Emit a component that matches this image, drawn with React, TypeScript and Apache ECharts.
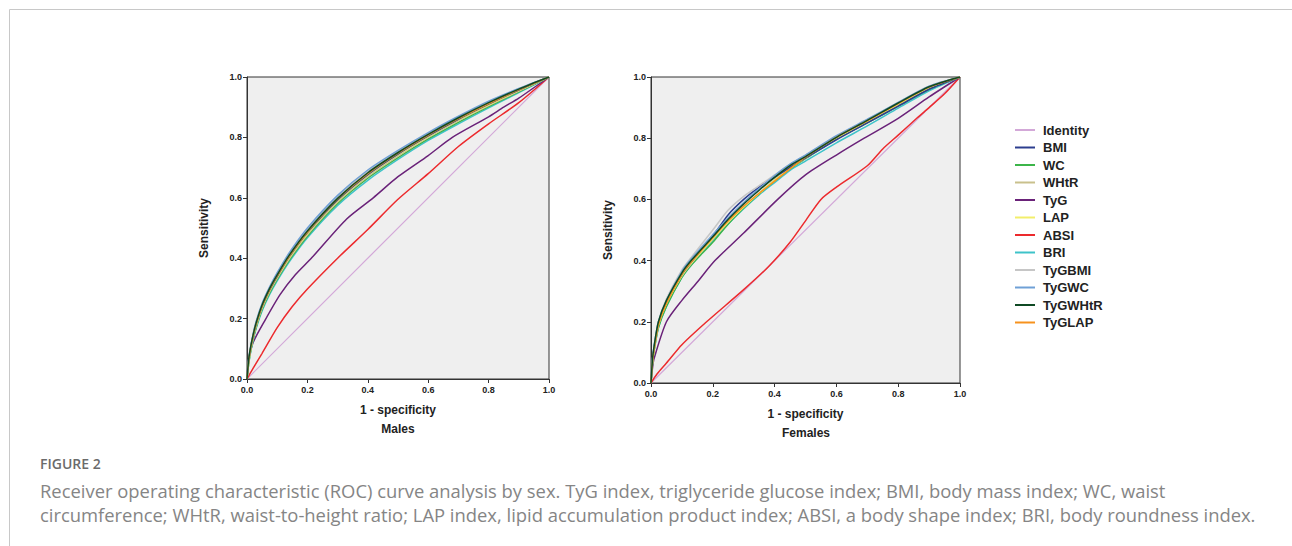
import React, { useEffect, useRef } from "react";
import * as echarts from "echarts";

// ---------- Data ----------
const LEGEND_ORDER = ["Identity", "BMI", "WC", "WHtR", "TyG", "LAP", "ABSI", "BRI", "TyGBMI", "TyGWC", "TyGWHtR", "TyGLAP"];
const COLORS: Record<string, string> = {
  Identity: "#d3a8d8",
  BMI: "#2c3e8f",
  WC: "#3cb54a",
  WHtR: "#c9c08c",
  TyG: "#6a2279",
  LAP: "#f2ee6b",
  ABSI: "#ec2a2d",
  BRI: "#3ec3c9",
  TyGBMI: "#c6c6c6",
  TyGWC: "#6fa0d6",
  TyGWHtR: "#0f4a24",
  TyGLAP: "#f6921e",
};
const DRAW_ORDER = ["Identity", "ABSI", "TyG", "BRI", "WC", "WHtR", "LAP", "BMI", "TyGBMI", "TyGWC", "TyGLAP", "TyGWHtR"];

const IDENTITY_X = [0, 1];
const IDENTITY_Y = [0, 1];

// Males
const M_GRID_X = [0, 0.005, 0.01, 0.02, 0.03, 0.05, 0.075, 0.1, 0.14, 0.2, 0.3, 0.4, 0.5, 0.6, 0.7, 0.8, 0.9, 1];
const M_TYGWHTR = [0, 0.06, 0.095, 0.145, 0.185, 0.245, 0.3, 0.345, 0.41, 0.49, 0.598, 0.683, 0.75, 0.81, 0.865, 0.915, 0.96, 1];
const M_TYGWC = [0, 0.06, 0.095, 0.148, 0.19, 0.25, 0.305, 0.352, 0.418, 0.5, 0.608, 0.692, 0.757, 0.816, 0.87, 0.92, 0.962, 1];
const M_TYGBMI = [0, 0.06, 0.095, 0.147, 0.188, 0.248, 0.303, 0.349, 0.415, 0.496, 0.604, 0.688, 0.753, 0.812, 0.867, 0.917, 0.961, 1];
const M_BMI = [0, 0.055, 0.09, 0.14, 0.18, 0.24, 0.295, 0.34, 0.405, 0.485, 0.593, 0.677, 0.745, 0.805, 0.86, 0.91, 0.957, 1];
const M_TYGLAP = [0, 0.055, 0.09, 0.142, 0.182, 0.242, 0.297, 0.342, 0.407, 0.487, 0.596, 0.68, 0.748, 0.808, 0.862, 0.912, 0.958, 1];
const M_LAP = [0, 0.05, 0.085, 0.137, 0.177, 0.237, 0.292, 0.337, 0.402, 0.482, 0.59, 0.675, 0.743, 0.803, 0.858, 0.908, 0.955, 1];
const M_WHTR = [0, 0.05, 0.085, 0.135, 0.175, 0.235, 0.29, 0.334, 0.398, 0.478, 0.586, 0.67, 0.738, 0.8, 0.855, 0.905, 0.953, 1];
const M_WC = [0, 0.045, 0.08, 0.13, 0.17, 0.23, 0.285, 0.33, 0.393, 0.473, 0.581, 0.665, 0.733, 0.795, 0.85, 0.902, 0.951, 1];
const M_BRI = [0, 0.045, 0.078, 0.127, 0.166, 0.225, 0.28, 0.325, 0.388, 0.468, 0.575, 0.658, 0.727, 0.79, 0.845, 0.898, 0.948, 1];
const M_TYG_X = [0, 0.005, 0.02, 0.06, 0.11, 0.16, 0.215, 0.33, 0.418, 0.5, 0.6, 0.68, 0.8, 0.85, 0.9, 1];
const M_TYG_Y = [0, 0.06, 0.12, 0.195, 0.28, 0.345, 0.402, 0.53, 0.6, 0.67, 0.74, 0.8, 0.868, 0.9, 0.93, 1];
const M_ABSI_X = [0, 0.02, 0.05, 0.1, 0.15, 0.2, 0.3, 0.4, 0.5, 0.6, 0.7, 0.8, 0.9, 1];
const M_ABSI_Y = [0, 0.035, 0.085, 0.17, 0.24, 0.298, 0.4, 0.495, 0.595, 0.68, 0.77, 0.845, 0.915, 1];

// Females
const F_GRID_X = [0, 0.005, 0.01, 0.024, 0.05, 0.1, 0.13, 0.2, 0.25, 0.3, 0.35, 0.4, 0.45, 0.5, 0.6, 0.7, 0.8, 0.9, 1];
const F_TYGWHTR = [0, 0.08, 0.12, 0.2, 0.27, 0.36, 0.4, 0.478, 0.535, 0.585, 0.63, 0.672, 0.71, 0.74, 0.803, 0.858, 0.915, 0.968, 1];
const F_TYGBMI = [0, 0.08, 0.12, 0.2, 0.275, 0.37, 0.41, 0.5, 0.565, 0.61, 0.645, 0.68, 0.715, 0.745, 0.805, 0.86, 0.917, 0.97, 1];
const F_BMI = [0, 0.075, 0.115, 0.195, 0.265, 0.355, 0.395, 0.48, 0.55, 0.6, 0.64, 0.672, 0.705, 0.735, 0.795, 0.85, 0.905, 0.96, 1];
const F_TYGWC = [0, 0.08, 0.12, 0.2, 0.27, 0.365, 0.405, 0.485, 0.54, 0.59, 0.635, 0.678, 0.715, 0.745, 0.808, 0.862, 0.917, 0.97, 1];
const F_TYGLAP = [0, 0.07, 0.11, 0.19, 0.26, 0.355, 0.395, 0.475, 0.53, 0.578, 0.62, 0.66, 0.7, 0.738, 0.803, 0.857, 0.913, 0.967, 1];
const F_LAP = [0, 0.07, 0.11, 0.19, 0.26, 0.352, 0.392, 0.472, 0.527, 0.575, 0.62, 0.662, 0.702, 0.735, 0.8, 0.855, 0.91, 0.963, 1];
const F_WHTR = [0, 0.07, 0.11, 0.19, 0.26, 0.35, 0.39, 0.47, 0.525, 0.575, 0.62, 0.665, 0.705, 0.737, 0.8, 0.853, 0.908, 0.962, 1];
const F_WC = [0, 0.065, 0.105, 0.18, 0.25, 0.345, 0.385, 0.46, 0.52, 0.572, 0.618, 0.66, 0.7, 0.733, 0.797, 0.85, 0.905, 0.96, 1];
const F_BRI = [0, 0.065, 0.105, 0.18, 0.25, 0.345, 0.385, 0.465, 0.52, 0.57, 0.615, 0.655, 0.695, 0.725, 0.785, 0.84, 0.898, 0.955, 1];
const F_TYG_X = [0, 0.005, 0.01, 0.05, 0.1, 0.15, 0.207, 0.3, 0.41, 0.5, 0.6, 0.69, 0.8, 0.9, 1];
const F_TYG_Y = [0, 0.05, 0.08, 0.2, 0.27, 0.33, 0.4, 0.49, 0.6, 0.68, 0.745, 0.8, 0.865, 0.935, 1];
const F_ABSI_X = [0, 0.02, 0.05, 0.1, 0.18, 0.3, 0.38, 0.45, 0.5, 0.55, 0.6, 0.7, 0.75, 0.8, 0.86, 0.9, 0.95, 1];
const F_ABSI_Y = [0, 0.03, 0.065, 0.125, 0.2, 0.305, 0.38, 0.46, 0.53, 0.6, 0.64, 0.71, 0.765, 0.81, 0.865, 0.9, 0.945, 1];

const CAPTION_LABEL = "FIGURE 2";
const CAPTION_LINES = [
  "Receiver operating characteristic (ROC) curve analysis by sex. TyG index, triglyceride glucose index; BMI, body mass index; WC, waist",
  "circumference; WHtR, waist-to-height ratio; LAP index, lipid accumulation product index; ABSI, a body shape index; BRI, body roundness index.",
];
const PANEL_TITLES = ["Males", "Females"];

// ---------- Helpers ----------
const zip = (xs: number[], ys: number[]) => xs.map((x, i) => [x, ys[i]]);

const MALE_CURVES: Record<string, number[][]> = {
  Identity: zip(IDENTITY_X, IDENTITY_Y),
  BMI: zip(M_GRID_X, M_BMI),
  WC: zip(M_GRID_X, M_WC),
  WHtR: zip(M_GRID_X, M_WHTR),
  TyG: zip(M_TYG_X, M_TYG_Y),
  LAP: zip(M_GRID_X, M_LAP),
  ABSI: zip(M_ABSI_X, M_ABSI_Y),
  BRI: zip(M_GRID_X, M_BRI),
  TyGBMI: zip(M_GRID_X, M_TYGBMI),
  TyGWC: zip(M_GRID_X, M_TYGWC),
  TyGWHtR: zip(M_GRID_X, M_TYGWHTR),
  TyGLAP: zip(M_GRID_X, M_TYGLAP),
};
const FEMALE_CURVES: Record<string, number[][]> = {
  Identity: zip(IDENTITY_X, IDENTITY_Y),
  BMI: zip(F_GRID_X, F_BMI),
  WC: zip(F_GRID_X, F_WC),
  WHtR: zip(F_GRID_X, F_WHTR),
  TyG: zip(F_TYG_X, F_TYG_Y),
  LAP: zip(F_GRID_X, F_LAP),
  ABSI: zip(F_ABSI_X, F_ABSI_Y),
  BRI: zip(F_GRID_X, F_BRI),
  TyGBMI: zip(F_GRID_X, F_TYGBMI),
  TyGWC: zip(F_GRID_X, F_TYGWC),
  TyGWHtR: zip(F_GRID_X, F_TYGWHTR),
  TyGLAP: zip(F_GRID_X, F_TYGLAP),
};

const FONT = "'Liberation Sans', Arial, sans-serif";
const CAP_FONT = "'Open Sans', 'Noto Sans', sans-serif";

function makeAxes(gridIndex: number) {
  const common = {
    gridIndex,
    type: "value" as const,
    min: 0,
    max: 1,
    interval: 0.2,
    splitLine: { show: false },
    axisLine: { show: true, lineStyle: { color: "#333", width: 1 } },
    axisTick: { show: true, length: 4, lineStyle: { color: "#333", width: 1 } },
    axisLabel: {
      fontFamily: FONT,
      fontSize: 9,
      fontWeight: "bold" as const,
      color: "#222",
      formatter: (v: number) => v.toFixed(1),
    },
    nameTextStyle: { fontFamily: FONT, fontSize: 12, fontWeight: "bold" as const, color: "#222" },
  };
  return {
    x: { ...common, name: "1 - specificity", nameLocation: "middle" as const, nameGap: 25, axisLabel: { ...common.axisLabel, margin: 6 } },
    y: { ...common, name: "Sensitivity", nameLocation: "middle" as const, nameGap: 37, axisLabel: { ...common.axisLabel, margin: 5 } },
  };
}

export default function App() {
  const ref = useRef<HTMLDivElement>(null);
  useEffect(() => {
    document.body.style.margin = "0";
    if (!ref.current) return;
    const chart = echarts.init(ref.current, undefined, { renderer: "svg" });
    const a0 = makeAxes(0);
    const a1 = makeAxes(1);
    const series: any[] = [];
    [MALE_CURVES, FEMALE_CURVES].forEach((curves, gi) => {
      DRAW_ORDER.forEach((name) => {
        series.push({
          name,
          type: "line",
          xAxisIndex: gi,
          yAxisIndex: gi,
          data: curves[name],
          symbol: "none",
          smooth: name === "Identity" ? false : 0.25,
          lineStyle: { color: COLORS[name], width: name === "Identity" ? 1.2 : 1.5 },
          itemStyle: { color: COLORS[name] },
          silent: true,
        });
      });
    });
    chart.setOption({
      animation: false,
      backgroundColor: "#fff",
      grid: [
        { left: 247, top: 77, width: 302, height: 302, show: true, backgroundColor: "#efefef", borderColor: "#333", borderWidth: 1 },
        { left: 651, top: 77, width: 309, height: 306, show: true, backgroundColor: "#efefef", borderColor: "#333", borderWidth: 1 },
      ],
      xAxis: [a0.x, a1.x],
      yAxis: [a0.y, a1.y],
      legend: {
        data: LEGEND_ORDER,
        orient: "vertical",
        left: 1010,
        top: 118,
        icon: "rect",
        itemWidth: 20,
        itemHeight: 2,
        itemGap: 3.5,
        selectedMode: false,
        textStyle: { fontFamily: FONT, fontSize: 13, fontWeight: "bold", color: "#222", lineHeight: 14, padding: [0, 0, 0, 3] },
      },
      series,
      graphic: [
        { type: "line", shape: { x1: 9.5, y1: 9.5, x2: 1292, y2: 9.5 }, style: { stroke: "#c8c8c8", lineWidth: 1 } },
        { type: "line", shape: { x1: 9.5, y1: 9.5, x2: 9.5, y2: 546 }, style: { stroke: "#c8c8c8", lineWidth: 1 } },
        { type: "text", x: 398, y: 429, style: { text: PANEL_TITLES[0], fontFamily: FONT, fontSize: 12, fontWeight: "bold", fill: "#222", align: "center", verticalAlign: "middle" } },
        { type: "text", x: 806, y: 433, style: { text: PANEL_TITLES[1], fontFamily: FONT, fontSize: 12, fontWeight: "bold", fill: "#222", align: "center", verticalAlign: "middle" } },
        { type: "text", x: 40, y: 463, style: { text: CAPTION_LABEL, fontFamily: CAP_FONT, fontSize: 14, fontWeight: 600, fill: "#6b6b6b", verticalAlign: "middle" } },
        { type: "text", x: 40, y: 490, style: { text: CAPTION_LINES[0], fontFamily: CAP_FONT, fontSize: 18.4, fill: "#858585", verticalAlign: "middle" } },
        { type: "text", x: 40, y: 514, style: { text: CAPTION_LINES[1], fontFamily: CAP_FONT, fontSize: 18.4, fill: "#858585", verticalAlign: "middle" } },
      ],
    });
    return () => chart.dispose();
  }, []);
  return <div ref={ref} style={{ width: 1292, height: 546 }} />;
}
